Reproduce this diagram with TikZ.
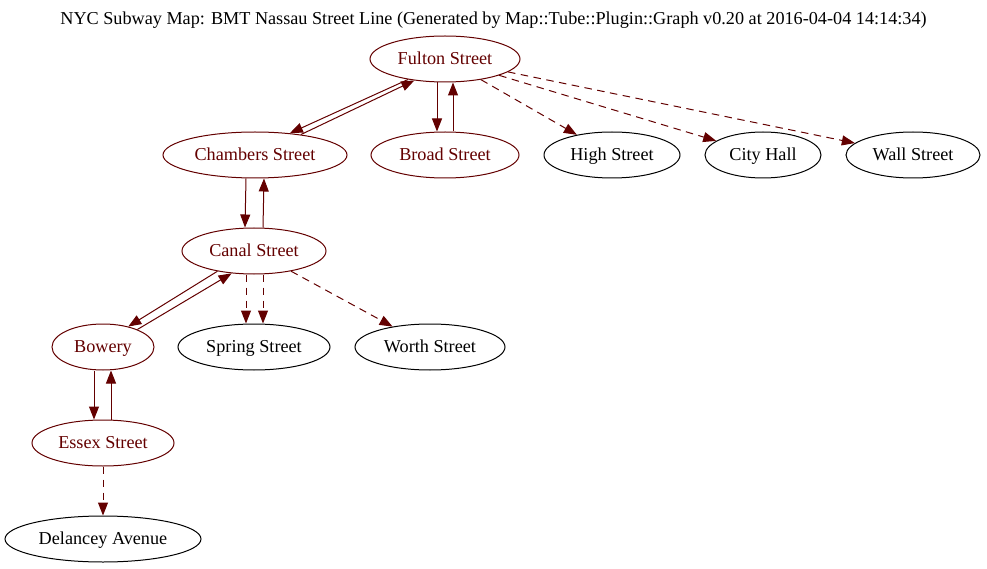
\documentclass[tikz,border=0pt]{standalone}
\usepackage{fontspec}
\setmainfont{Liberation Serif}
\usetikzlibrary{shapes.geometric,arrows.meta}
\definecolor{lred}{RGB}{99,0,0}
\begin{document}
\begin{tikzpicture}[x=1pt,y=-1pt,
  stn/.style={ellipse,draw,line width=1pt,inner sep=0pt,minimum height=46pt,
    text height=11.9pt,text depth=0pt,
    font=\fontsize{18.2}{21}\selectfont},
  redstn/.style={stn,draw=lred,text=lred},
  blkstn/.style={stn,draw=black,text=black},
  conn/.style={draw=lred,line width=1pt,-{Triangle[length=13pt,width=10pt]},color=lred},
  dconn/.style={conn,dash pattern=on 7.5pt off 5.5pt}]
\useasboundingbox (0,0) rectangle (987,569);
\node[font=\fontsize{18.2}{21}\selectfont] (title) at (493.5,20) {NYC Subway Map: BMT Nassau Street Line (Generated by Map::Tube::Plugin::Graph v0.20 at 2016-04-04 14:14:34)};
\node[redstn,minimum width=150pt] (fulton) at (445,59) {Fulton Street};
\node[redstn,minimum width=184pt] (chambers) at (255,155) {Chambers Street};
\node[redstn,minimum width=148pt] (broad) at (445,155) {Broad Street};
\node[blkstn,minimum width=136pt] (high) at (612,155) {High Street};
\node[blkstn,minimum width=116pt] (city) at (763,155) {City Hall};
\node[blkstn,minimum width=134pt] (wall) at (913,155) {Wall Street};
\node[redstn,minimum width=144pt] (canal) at (254,251) {Canal Street};
\node[redstn,minimum width=102pt] (bowery) at (103,347) {Bowery};
\node[blkstn,minimum width=152pt] (spring) at (254,347) {Spring Street};
\node[blkstn,minimum width=150pt] (worth) at (430,347) {Worth Street};
\node[redstn,minimum width=142pt] (essex) at (103,443) {Essex Street};
\node[blkstn,minimum width=196pt] (delancey) at (103,539) {Delancey Avenue};
% Fulton - Chambers
\draw[conn] (fulton.209) -- (chambers.32);
\draw[conn] (chambers.24) -- (fulton.215);
% Fulton - Broad
\draw[conn] ([xshift=-8pt]fulton.south) -- ([xshift=-8pt]broad.north);
\draw[conn] ([xshift=8pt]broad.north) -- ([xshift=8pt]fulton.south);
% Fulton dashed
\draw[dconn] (fulton) -- (high);
\draw[dconn] (fulton) -- (city);
\draw[dconn] (fulton) -- (wall);
% Chambers - Canal
\draw[conn] ([xshift=-9pt]chambers.south) -- ([xshift=-9pt]canal.north);
\draw[conn] ([xshift=9pt]canal.north) -- ([xshift=9pt]chambers.south);
% Canal - Bowery
\draw[conn] (canal.209) -- (bowery.39);
\draw[conn] (bowery.27) -- (canal.225);
% Canal - Spring
\draw[dconn] ([xshift=-8pt]canal.south) -- ([xshift=-8pt]spring.north);
\draw[dconn] ([xshift=9pt]canal.south) -- ([xshift=9pt]spring.north);
% Canal - Worth
\draw[dconn] (canal) -- (worth);
% Bowery - Essex
\draw[conn] ([xshift=-9pt]bowery.south) -- ([xshift=-9pt]essex.north);
\draw[conn] ([xshift=8pt]essex.north) -- ([xshift=8pt]bowery.south);
% Essex - Delancey
\draw[dconn] (essex) -- (delancey);
\end{tikzpicture}
\end{document}
